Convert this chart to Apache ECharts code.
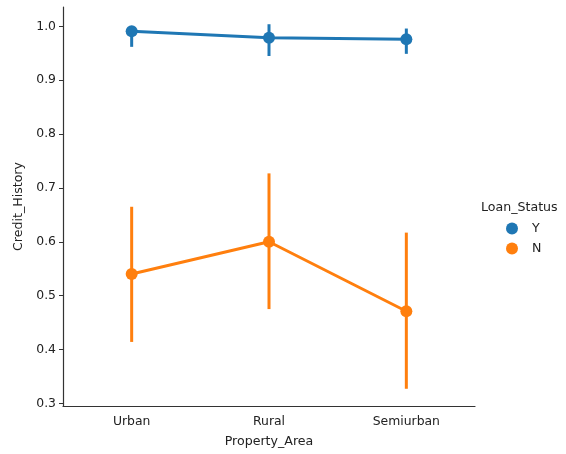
<!DOCTYPE html>
<html>
<head>
<meta charset="utf-8">
<script src="https://cdn.jsdelivr.net/npm/echarts@6/dist/echarts.min.js"></script>
<style>html,body{margin:0;padding:0;background:#fff}#c{width:566px;height:454px}</style>
</head>
<body>
<div id="c"></div>
<script>
const categories = ['Urban', 'Rural', 'Semiurban'];
const yMean = [0.991, 0.979, 0.976];
const yLow = [0.962, 0.945, 0.949];
const yHigh = [1.000, 1.004, 0.996];
const nMean = [0.540, 0.600, 0.471];
const nLow = [0.414, 0.475, 0.327];
const nHigh = [0.665, 0.727, 0.617];
const yTicks = [0.3, 0.4, 0.5, 0.6, 0.7, 0.8, 0.9, 1.0];
const seriesNames = ['Y', 'N'];
const colors = ['#1f77b4', '#ff7f0e'];

const font = 'DejaVu Sans';
const tickSize = 12.4;
const labSize = 12.6;
const chart = echarts.init(document.getElementById('c'), null, {renderer: 'canvas'});

function errSeries(name, low, high, color) {
  return {
    type: 'custom',
    name: name,
    z: 3,
    data: categories.map((c, i) => [i, low[i], high[i]]),
    renderItem: function (params, api) {
      const p1 = api.coord([api.value(0), api.value(1)]);
      const p2 = api.coord([api.value(0), api.value(2)]);
      return {
        type: 'line',
        shape: {x1: p1[0], y1: p1[1], x2: p2[0], y2: p2[1]},
        style: {stroke: color, lineWidth: 3}
      };
    },
    silent: true
  };
}

function lineSeries(name, vals, color) {
  return {
    type: 'line',
    name: name,
    z: 4,
    data: vals,
    symbol: 'circle',
    symbolSize: 12,
    lineStyle: {color: color, width: 3},
    itemStyle: {color: color},
    animation: false
  };
}

chart.setOption({
  animation: false,
  color: colors,
  grid: {left: 63, right: 91, top: 7, bottom: 48},
  title: {
    text: 'Loan_Status',
    left: 481, top: 200,
    padding: 0,
    textStyle: {fontFamily: font, fontSize: labSize, fontWeight: 'normal', color: '#222', lineHeight: 16}
  },
  legend: {
    data: seriesNames.map(n => ({name: n, icon: 'circle'})),
    orient: 'vertical',
    left: 506, top: 222,
    padding: 0,
    itemWidth: 12, itemHeight: 12, itemGap: 7,
    textStyle: {fontFamily: font, fontSize: labSize, color: '#222', lineHeight: 12, padding: [0, 0, 0, 9]}
  },
  xAxis: {
    type: 'category',
    data: categories,
    boundaryGap: true,
    name: 'Property_Area',
    nameLocation: 'middle',
    nameGap: 29,
    nameTextStyle: {fontFamily: font, fontSize: labSize, color: '#222'},
    axisLine: {lineStyle: {color: '#333', width: 1.2}},
    axisTick: {alignWithLabel: true, length: 4, lineStyle: {color: '#333', width: 1}},
    axisLabel: {fontFamily: font, fontSize: tickSize, color: '#222', margin: 10},
    splitLine: {show: false}
  },
  yAxis: {
    type: 'value',
    min: 0.295,
    max: 1.036,
    name: 'Credit_History',
    nameLocation: 'middle',
    nameGap: 35,
    nameRotate: 90,
    nameTextStyle: {fontFamily: font, fontSize: labSize, color: '#222'},
    axisLine: {show: true, lineStyle: {color: '#333', width: 1.2}},
    axisTick: {show: true, length: 4, customValues: yTicks, lineStyle: {color: '#333', width: 1}},
    axisLabel: {fontFamily: font, fontSize: tickSize, color: '#222', margin: 7,
      customValues: yTicks, formatter: v => v.toFixed(1)},
    splitLine: {show: false}
  },
  series: [
    errSeries('Y', yLow, yHigh, colors[0]),
    errSeries('N', nLow, nHigh, colors[1]),
    lineSeries('Y', yMean, colors[0]),
    lineSeries('N', nMean, colors[1])
  ]
});
</script>
</body>
</html>
